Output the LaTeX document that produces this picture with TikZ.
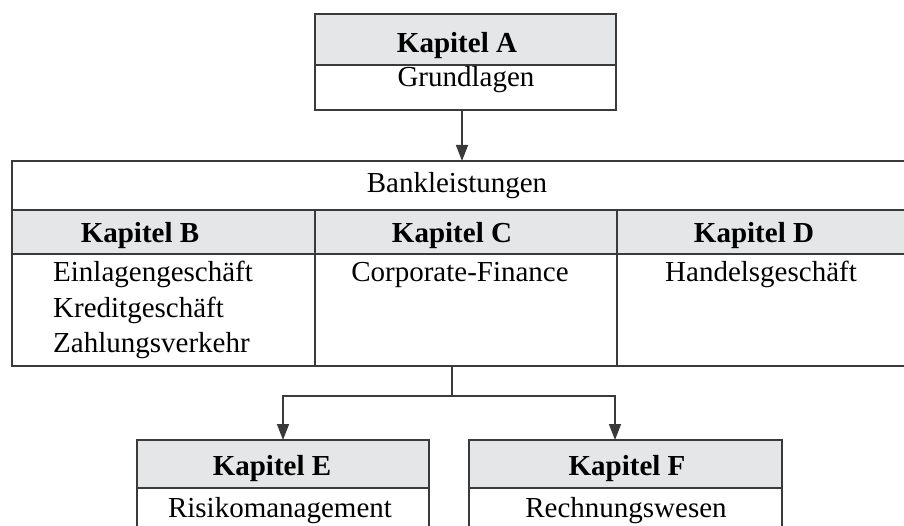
\documentclass[tikz,border=0pt]{standalone}
\usepackage{fontspec}
\setmainfont{Liberation Serif}
\usetikzlibrary{arrows.meta}
\definecolor{band}{HTML}{E5E6E7}
\definecolor{ln}{HTML}{3A3A3A}
\begin{document}
\begin{tikzpicture}[x=1pt,y=-1pt,
  lbl/.style={inner sep=0pt,anchor=base,font=\fontsize{29}{34}\selectfont},
  hd/.style={lbl,font=\fontsize{29}{34}\selectfont\bfseries},
  frame/.style={draw=ln,line width=1.5pt},
  arr/.style={draw=ln,line width=1.5pt,-{Triangle[length=16pt,width=12pt]}},
  con/.style={draw=ln,line width=1.5pt}]
\useasboundingbox (0,0) rectangle (904,526);
\clip (0,0) rectangle (904,526);
% top box A
\fill[band] (315,14) rectangle (616,65);
\draw[frame] (315,14) rectangle (616,110);
\draw[frame] (315,65) -- (616,65);
\node[inner sep=0pt,minimum width=301pt,minimum height=96pt,anchor=north west] (A) at (315,14) {};
\node[hd] (At) at (457,53) {Kapitel A};
\node[lbl] (Ag) at (466,87) {Grundlagen};
% middle box
\fill[band] (12,210) rectangle (915,254);
\draw[frame] (915,161) -- (12,161) -- (12,366) -- (915,366);
\draw[frame] (12,210) -- (915,210);
\draw[frame] (12,254) -- (915,254);
\draw[frame] (315,210) -- (315,366);
\draw[frame] (617,210) -- (617,366);
\node[inner sep=0pt,minimum width=903pt,minimum height=205pt,anchor=north west] (M) at (12,161) {};
\node[lbl] (Mt) at (457,193) {Bankleistungen};
\node[hd] (B) at (140,243) {Kapitel B};
\node[hd] (C) at (452,243) {Kapitel C};
\node[hd] (D) at (754,243) {Kapitel D};
\node[lbl,anchor=base west] (B1) at (53,282) {Einlagengeschäft};
\node[lbl,anchor=base west] (B2) at (53,318) {Kreditgeschäft};
\node[lbl,anchor=base west] (B3) at (53,352) {Zahlungsverkehr};
\node[lbl] (C1) at (460,282) {Corporate-Finance};
\node[lbl] (D1) at (761,282) {Handelsgeschäft};
% bottom boxes
\fill[band] (137,440) rectangle (429,488);
\draw[frame] (137,540) -- (137,440) -- (429,440) -- (429,540);
\draw[frame] (137,488) -- (429,488);
\node[inner sep=0pt,minimum width=292pt,minimum height=100pt,anchor=north west] (E) at (137,440) {};
\fill[band] (469,440) rectangle (782,488);
\draw[frame] (469,540) -- (469,440) -- (782,440) -- (782,540);
\draw[frame] (469,488) -- (782,488);
\node[inner sep=0pt,minimum width=313pt,minimum height=100pt,anchor=north west] (F) at (469,440) {};
\node[hd] (Et) at (272,475) {Kapitel E};
\node[lbl] (Er) at (280,517) {Risikomanagement};
\node[hd] (Ft) at (627,475) {Kapitel F};
\node[lbl] (Fr) at (626,517) {Rechnungswesen};
% connectors
\coordinate (a1) at (462,110);
\draw[arr] (a1) -- (a1 |- M.north);
\coordinate (s0) at (452,366);
\coordinate (s1) at (452,396);
\coordinate (eL) at (283,396);
\coordinate (eR) at (615,396);
\draw[con] (s0) -- (s1);
\draw[arr] (s1) -- (eL) -- (eL |- E.north);
\draw[arr] (s1) -- (eR) -- (eR |- F.north);
\end{tikzpicture}
\end{document}
